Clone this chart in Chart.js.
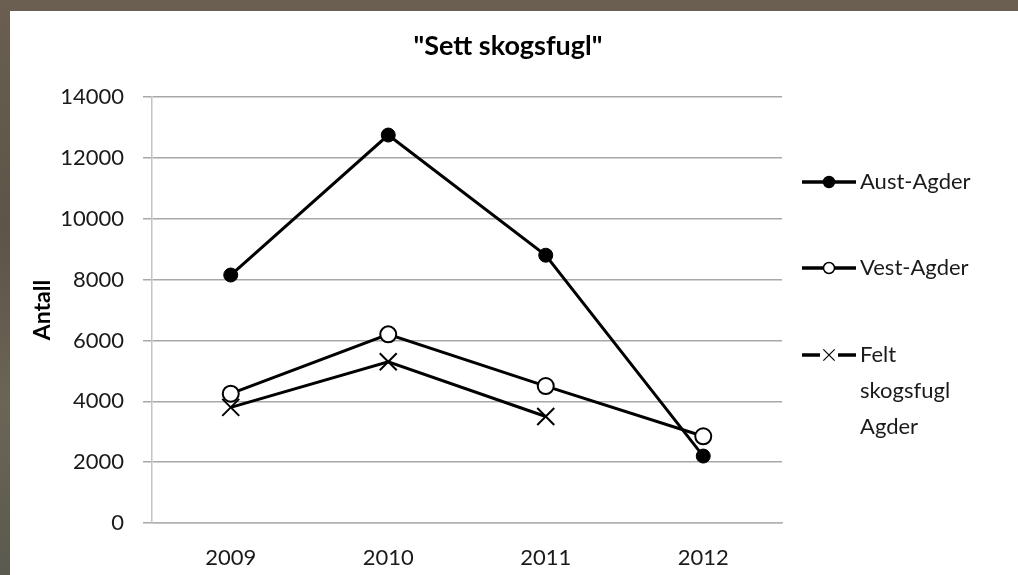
<!DOCTYPE html>
<html><head><meta charset="utf-8">
<script src="https://cdn.jsdelivr.net/npm/chart.js@4/dist/chart.umd.min.js"></script>
<style>
html,body{margin:0;padding:0;width:1018px;height:575px;overflow:hidden;
background:linear-gradient(180deg,#6a5f50 0%,#5d5548 40%,#6b6556 70%,#5a5a4e 100%);}
#panel{position:absolute;left:10px;top:11px;width:1008px;height:564px;background:#fff;}
canvas{display:block;}
</style></head><body>
<div id="panel"><canvas id="c" width="1008" height="564"></canvas></div>
<script>
const categories = ['2009','2010','2011','2012'];
const austAgder = [8150, 12750, 8800, 2200];
const vestAgder = [4250, 6200, 4500, 2850];
const feltSkogsfugl = [3800, 5300, 3500, null];
const yTicks = [0,2000,4000,6000,8000,10000,12000,14000];
const chartTitle = '"Sett skogsfugl"';
const yTitle = 'Antall';
const legendLabels = [['Aust-Agder'],['Vest-Agder'],['Felt','skogsfugl','Agder']];

const FONT = 'Lato, "Open Sans", sans-serif';

const extras = {
  id:'extras',
  afterDraw(chart){
    const ctx = chart.ctx;
    const ys = [171, 257, 344];
    ctx.save();
    ctx.fillStyle = '#000';
    ctx.font = 'bold 27px ' + FONT;
    ctx.textAlign = 'center'; ctx.textBaseline = 'middle';
    ctx.fillText(chartTitle, 498, 35);
    ctx.save();
    ctx.translate(33, 299);
    ctx.rotate(-Math.PI/2);
    ctx.font = 'bold 23px ' + FONT;
    ctx.fillText(yTitle, 0, 0);
    ctx.restore();
    chart.data.datasets.forEach((ds, i) => {
      const y = ys[i];
      ctx.strokeStyle = '#000'; ctx.lineWidth = 3.5;
      ctx.beginPath(); ctx.moveTo(792, y); ctx.lineTo(846, y); ctx.stroke();
      const isX = ds.pointStyle === 'crossRot';
      if (isX) { ctx.fillStyle = '#fff'; ctx.fillRect(810, y-9, 18, 18); }
      ctx.fillStyle = ds.pointBackgroundColor;
      ctx.strokeStyle = '#000';
      ctx.lineWidth = isX ? 1.2 : 1.5;
      Chart.helpers.drawPoint(ctx, {pointStyle: ds.pointStyle, radius: isX ? 8 : 5.5, borderWidth: isX ? 1.2 : 1.5}, 819, y);
      ctx.font = '22px ' + FONT; ctx.fillStyle = '#1a1a1a';
      ctx.textAlign = 'left'; ctx.textBaseline = 'middle';
      legendLabels[i].forEach((t, j) => ctx.fillText(t, 850, y + j*36));
    });
    ctx.restore();
  }
};

new Chart(document.getElementById('c'), {
  type:'line',
  data:{
    labels: categories,
    datasets:[
      {label:'Aust-Agder', data:austAgder, borderColor:'#000', borderWidth:3,
       pointStyle:'circle', pointRadius:7, pointBackgroundColor:'#000', pointBorderColor:'#000', pointBorderWidth:1},
      {label:'Vest-Agder', data:vestAgder, borderColor:'#000', borderWidth:3,
       pointStyle:'circle', pointRadius:8, pointBackgroundColor:'#fff', pointBorderColor:'#000', pointBorderWidth:2},
      {label:'Felt skogsfugl Agder', data:feltSkogsfugl, borderColor:'#000', borderWidth:3,
       pointStyle:'crossRot', pointRadius:12, pointBackgroundColor:'#000', pointBorderColor:'#000', pointBorderWidth:2}
    ]
  },
  options:{
    responsive:false, animation:false,
    layout:{padding:{top:86, right:236, left:0, bottom:0}},
    plugins:{legend:{display:false}, title:{display:false}, tooltip:{enabled:false}},
    scales:{
      x:{
        offset:true,
        grid:{display:false, drawTicks:false},
        border:{display:true, color:'#b3b3b3', width:1.5},
        ticks:{color:'#1a1a1a', font:{family:FONT, size:22}, padding:22},
        afterFit(s){ s.height = 52; }
      },
      y:{
        min:0, max:14000,
        afterBuildTicks(s){ s.ticks = yTicks.map(v => ({value:v})); },
        grid:{color:'#a8a8a8', lineWidth:1.5, tickLength:9, drawTicks:true},
        border:{display:true, color:'#c4c4c4', width:1.5},
        ticks:{color:'#1a1a1a', font:{family:FONT, size:22}, padding:19, callback:(v) => String(v)},
        afterFit(s){ s.width = 142; }
      }
    }
  },
  plugins:[extras]
});
</script>
</body></html>
